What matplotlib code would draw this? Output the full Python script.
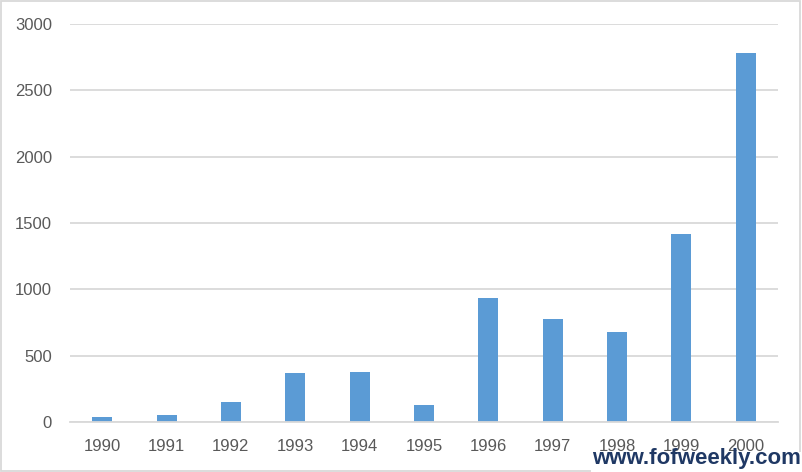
import matplotlib
matplotlib.use("Agg")
import matplotlib.pyplot as plt
from matplotlib.patches import Rectangle

years = ["1990", "1991", "1992", "1993", "1994", "1995", "1996", "1997", "1998", "1999", "2000"]
values = [38, 53, 151, 369, 377, 128, 938, 780, 682, 1420, 2785]
yticks = [0, 500, 1000, 1500, 2000, 2500, 3000]

plt.rcParams['font.family'] = ['Liberation Sans', 'DejaVu Sans']

fig = plt.figure(figsize=(8.02, 4.72), dpi=100)
fig.patch.set_facecolor('white')
ax = fig.add_axes([70/802, 1-422/472, 708/802, 398/472])

x = list(range(len(years)))
ax.bar(x, values, width=0.31, color='#5B9BD5', zorder=3)
ax.set_xlim(-0.5, len(years) - 0.5)
ax.set_ylim(0, 3000)
ax.set_yticks(yticks)
ax.set_yticklabels([str(v) for v in yticks])
ax.set_xticks(x)
ax.set_xticklabels(years)
ax.yaxis.grid(True, color='#D9D9D9', linewidth=1.3, zorder=0)
ax.set_axisbelow(True)
for s in ['top', 'right', 'left']:
    ax.spines[s].set_visible(False)
ax.spines['bottom'].set_color('#D9D9D9')
ax.spines['bottom'].set_linewidth(1.3)
ax.spines['bottom'].set_zorder(4)
ax.tick_params(axis='both', length=0, labelsize=12, colors='#595959')
ax.tick_params(axis='y', pad=13)
ax.tick_params(axis='x', pad=12)

# outer chart border
fig.add_artist(Rectangle((1/802, 1/472), 799/802, 470/472, transform=fig.transFigure,
                         fill=False, edgecolor='#D9D9D9', linewidth=1.3))
# watermark
fig.add_artist(Rectangle((591/802, 0), 211/802, 20/472, transform=fig.transFigure,
                         facecolor='white', edgecolor='none', zorder=5))
fig.text(801/802, 1-464/472, "www.fofweekly.com", ha='right', va='baseline',
         fontsize=16, fontweight='bold', color='#1F3864', zorder=6)

fig.savefig("out.png", dpi=100)
